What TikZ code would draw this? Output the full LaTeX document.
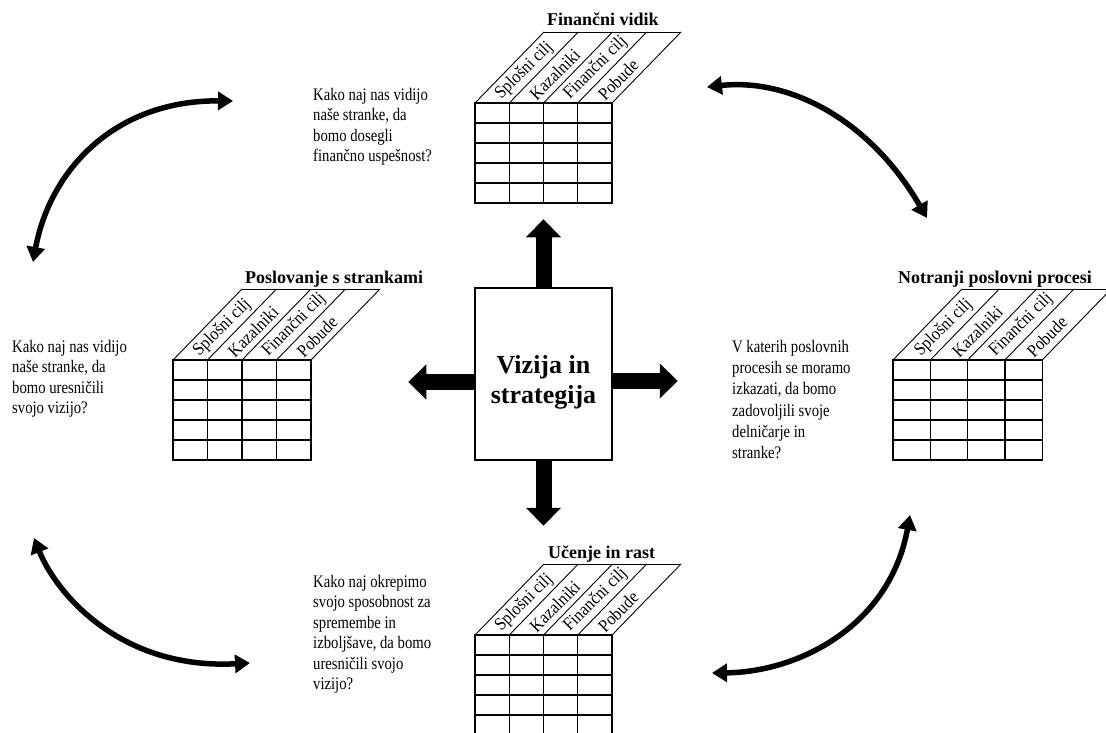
\documentclass[tikz,border=0pt]{standalone}
\usepackage{fontspec}
\setmainfont{Liberation Serif}
\newfontfamily\qfont[FakeStretch=0.835]{Liberation Serif}
\newfontfamily\hfont[FakeStretch=0.9]{Liberation Serif}
\usetikzlibrary{arrows.meta,scopes}

% one scorecard table: #1 name, #2 x, #3 y (top left of grid),
% #4 column width, #5 title offset, #6 title
\newcommand{\bsctable}[6]{%
\begin{scope}[shift={(#2,#3)}]
    \draw[tabline] (0,0) rectangle (4*#4,100);
    \foreach \i in {1,2,3}
        \draw[tabline] (\i*#4,0) -- (\i*#4,100);
    \foreach \j in {20,40,60,80}
        \draw[tabline] (0,\j) -- (4*#4,\j);
    \foreach \i in {0,...,4}
        \draw[slant] (\i*#4,0) -- ++(69,-71);
    \draw[slant] (69,-71) -- ++(4*#4,0);
    \foreach \hd [count=\i] in {Splošni cilj,Kazalniki,Finančni cilj,Pobude}
        \node[colhead] (#1-h\i) at ({(\i-0.5)*#4+6},-6) {\hd};
    \node[tabtitle] (#1-title) at (#5,-77) {#6};
\end{scope}}

\begin{document}
\begin{tikzpicture}[x=1pt,y=-1pt,
    tabline/.style={draw=black,line width=1.3pt},
    slant/.style={draw=black,line width=0.9pt},
    colhead/.style={font=\hfont\fontsize{18}{20}\selectfont,rotate=45,anchor=west,inner sep=0pt},
    tabtitle/.style={font=\fontsize{18}{21}\selectfont\bfseries,anchor=base west,inner sep=0pt},
    question/.style={font=\qfont\fontsize{17.6}{20.5}\selectfont,align=left,anchor=north west,inner sep=0pt},
    centerbox/.style={rectangle,draw,line width=1.5pt,minimum width=137pt,minimum height=172pt},
    centertext/.style={align=center,inner sep=0pt,font=\fontsize{26}{30}\selectfont\bfseries},
    blockarrow/.style={line width=16pt,-{Triangle[width=34pt,length=18pt]}},
    cyclearrow/.style={line width=5.5pt,{Triangle[width=18pt,length=15pt]}-{Triangle[width=18pt,length=15pt]}},
]
\useasboundingbox (0,0) rectangle (1106,733);

%%%
% Centre
\node[centerbox] (vision) at (543.5,374) {};
\node[centertext] (vision-label) at ([yshift=-8pt]vision.center) {Vizija in\\strategija};

\coordinate (tip-n) at ([yshift=68pt]vision.north);
\coordinate (tip-s) at ([yshift=-65pt]vision.south);
\coordinate (tip-e) at ([xshift=65pt,yshift=-7pt]vision.east);
\coordinate (tip-w) at ([xshift=-66pt,yshift=-8pt]vision.west);
{[blockarrow]
    \draw (vision.north) -- (tip-n);
    \draw (vision.south) -- (tip-s);
    \draw ([yshift=-7pt]vision.east) -- (tip-e);
    \draw ([yshift=-8pt]vision.west) -- (tip-w);
}

%%%
% The four tables
\bsctable{fin}{475}{103}{34.25}{72}{Finančni vidik}
\bsctable{kup}{173}{360}{34.5}{72}{Poslovanje s strankami}
\bsctable{proc}{893}{360}{37.3}{5}{Notranji poslovni procesi}
\bsctable{rast}{475}{635}{34.25}{73}{Učenje in rast}

%%%
% Questions
\node[question] (q-fin) at (313,88) {Kako naj nas vidijo\\naše stranke, da\\bomo dosegli\\finančno uspešnost?};
\node[question] (q-kup) at (12,340) {Kako naj nas vidijo\\naše stranke, da\\bomo uresničili\\svojo vizijo?};
\node[question,font=\qfont\fontsize{17.6}{21.2}\selectfont] (q-proc) at (732,340) {V katerih poslovnih\\procesih se moramo\\izkazati, da bomo\\zadovoljili svoje\\delničarje in\\stranke?};
\node[question] (q-rast) at (313,575) {Kako naj okrepimo\\svojo sposobnost za\\spremembe in\\izboljšave, da bomo\\uresničili svojo\\vizijo?};

%%%
% Cycle arrows
\coordinate (kup-up) at (33,262);
\coordinate (fin-left) at (233,101);
\coordinate (fin-right) at (707,87);
\coordinate (proc-up) at (927,218);
\coordinate (proc-down) at (910,515);
\coordinate (rast-right) at (712,673);
\coordinate (rast-left) at (250,663);
\coordinate (kup-down) at (34,538);
{[cyclearrow]
    \draw (kup-up) .. controls (50,170) and (115,100) .. (fin-left);
    \draw (fin-right) .. controls (790,78) and (870,120) .. (proc-up);
    \draw (rast-right) .. controls (800,672) and (890,625) .. (proc-down);
    \draw (kup-down) .. controls (56,593) and (120,670) .. (rast-left);
}
\end{tikzpicture}
\end{document}
